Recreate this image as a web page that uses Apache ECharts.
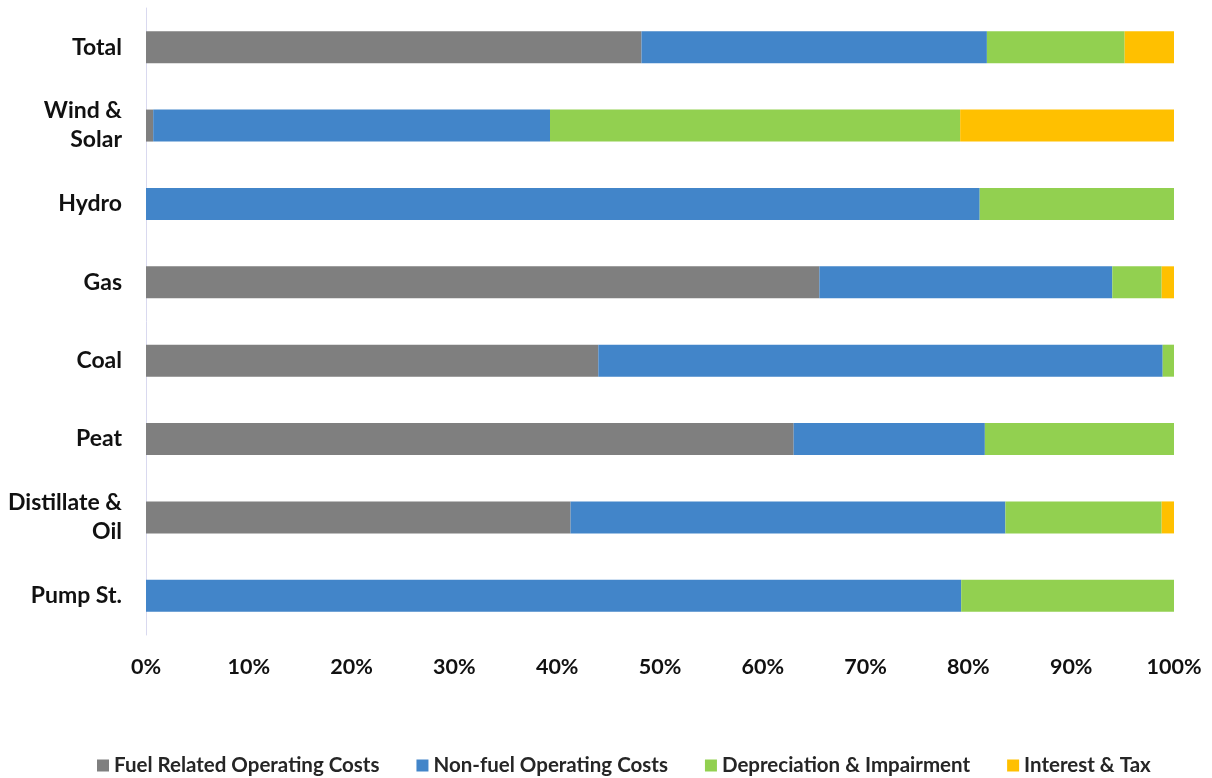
<!DOCTYPE html>
<html><head><meta charset="utf-8">
<script src="https://cdn.jsdelivr.net/npm/echarts@6/dist/echarts.min.js"></script>
<style>html,body{margin:0;padding:0;background:#fff}#c{width:1212px;height:778px}</style>
</head><body><div id="c"></div>
<script>
const categories = ["Total", "Wind &\nSolar", "Hydro", "Gas", "Coal", "Peat", "Distillate &\nOil", "Pump St."];
const seriesNames = ["Fuel Related Operating Costs", "Non-fuel Operating Costs", "Depreciation & Impairment", "Interest & Tax"];
const fuel     = [48.2, 0.7, 0, 65.5, 44.0, 63.0, 41.3, 0];
const nonFuel  = [33.6, 38.6, 81.1, 28.5, 54.9, 18.6, 42.3, 79.3];
const deprec   = [13.4, 39.9, 18.9, 4.8, 1.1, 18.4, 15.2, 20.7];
const interest = [4.8, 20.8, 0, 1.2, 0, 0, 1.2, 0];
const colors = ["#7f7f7f", "#4285c9", "#92d050", "#ffc000"];
const values = [fuel, nonFuel, deprec, interest];
const font = "Lato, 'Open Sans', sans-serif";
const chart = echarts.init(document.getElementById('c'));
chart.setOption({
  animation: false,
  color: colors,
  grid: {left: 146, right: 38, top: 8, bottom: 143, containLabel: false},
  legend: {
    left: 92, bottom: -3, itemWidth: 12, itemHeight: 12, itemGap: 37, icon: 'rect',
    textStyle: {fontFamily: font, fontWeight: 'bold', fontSize: 20.5, color: '#262626'},
    data: seriesNames
  },
  xAxis: {
    type: 'value', min: 0, max: 100, interval: 10,
    axisLabel: {formatter: '{value}%', fontFamily: font, fontWeight: 'bold', fontSize: 21.5, color: '#111', margin: 21},
    axisLine: {show: false}, axisTick: {show: false}, splitLine: {show: false}
  },
  yAxis: {
    type: 'category', data: categories, inverse: true,
    axisLine: {show: true, lineStyle: {color: '#d9d9ef', width: 1}},
    axisTick: {show: false},
    axisLabel: {fontFamily: font, fontWeight: 'bold', fontSize: 23, color: '#111', margin: 24, lineHeight: 29, align: 'right'}
  },
  series: seriesNames.map((n, i) => ({
    name: n, type: 'bar', stack: 'all', barWidth: 32,
    data: values[i], itemStyle: {color: colors[i]}
  }))
});
</script></body></html>
